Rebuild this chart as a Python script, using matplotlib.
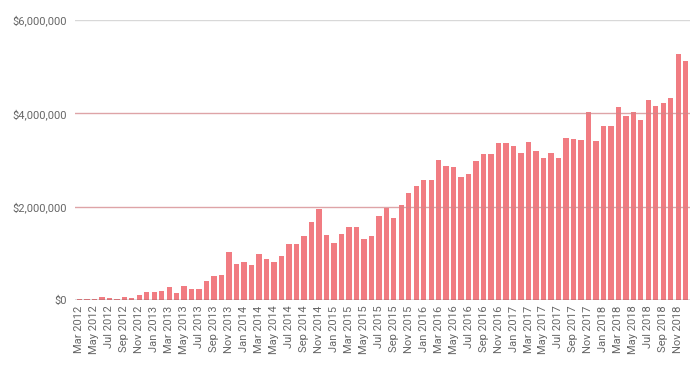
import matplotlib.pyplot as plt
from matplotlib.ticker import FuncFormatter

plt.rcParams['font.family'] = ['Roboto', 'DejaVu Sans']

# monthly values, Mar 2012 .. Dec 2018 (millions of $)
months = ['Jan', 'Feb', 'Mar', 'Apr', 'May', 'Jun', 'Jul', 'Aug', 'Sep', 'Oct', 'Nov', 'Dec']
labels = []
for y in range(2012, 2019):
    for m in months:
        labels.append(m + ' ' + str(y))
labels = labels[2:]

values_m = [0.02, 0.01, 0.01, 0.065, 0.045, 0.02, 0.065, 0.04, 0.10, 0.16,
            0.165, 0.19, 0.27, 0.14, 0.29, 0.23, 0.24, 0.40, 0.51, 0.53,
            1.03, 0.78, 0.81, 0.74, 0.99, 0.88, 0.81, 0.94, 1.19, 1.19,
            1.38, 1.66, 1.95, 1.39, 1.22, 1.42, 1.56, 1.56, 1.30, 1.36,
            1.81, 1.97, 1.75, 2.04, 2.29, 2.45, 2.58, 2.58, 3.00, 2.88,
            2.86, 2.64, 2.70, 2.98, 3.13, 3.13, 3.36, 3.36, 3.30, 3.15,
            3.38, 3.19, 3.05, 3.15, 3.05, 3.48, 3.46, 3.44, 4.02, 3.40,
            3.72, 3.72, 4.13, 3.94, 4.02, 3.85, 4.28, 4.16, 4.22, 4.33,
            5.28, 5.13]
values = [v * 1e6 for v in values_m]

fig = plt.figure(figsize=(7, 3.73), dpi=100)
ax = fig.add_axes([0.107, 0.196, 0.879, 0.750])

x = list(range(len(values)))
ax.bar(x, values, width=0.72, color='#f17c82', zorder=2)

ax.set_ylim(0, 6e6)
ax.set_xlim(-0.6, len(values) - 0.4)
ax.set_yticks([0, 2e6, 4e6, 6e6])
ax.yaxis.set_major_formatter(FuncFormatter(lambda v, p: '${:,.0f}'.format(v)))

# gridlines (drawn over the bars, like the original)
ax.axhline(2e6, color='#d4868a', lw=1, alpha=0.75, zorder=3)
ax.axhline(4e6, color='#d4868a', lw=1, alpha=0.75, zorder=3)
ax.axhline(6e6, color='#d8d8d8', lw=1, zorder=1)
ax.axhline(0, color='#555555', lw=1, zorder=3)

ax.set_xticks(x[::2])
ax.set_xticklabels(labels[::2], rotation=90)
ax.tick_params(axis='x', length=0, pad=4, labelsize=8, labelcolor='#666666')
ax.tick_params(axis='y', length=0, pad=6, labelsize=8, labelcolor='#666666')

for s in ax.spines.values():
    s.set_visible(False)

fig.savefig('out.png', dpi=100)
